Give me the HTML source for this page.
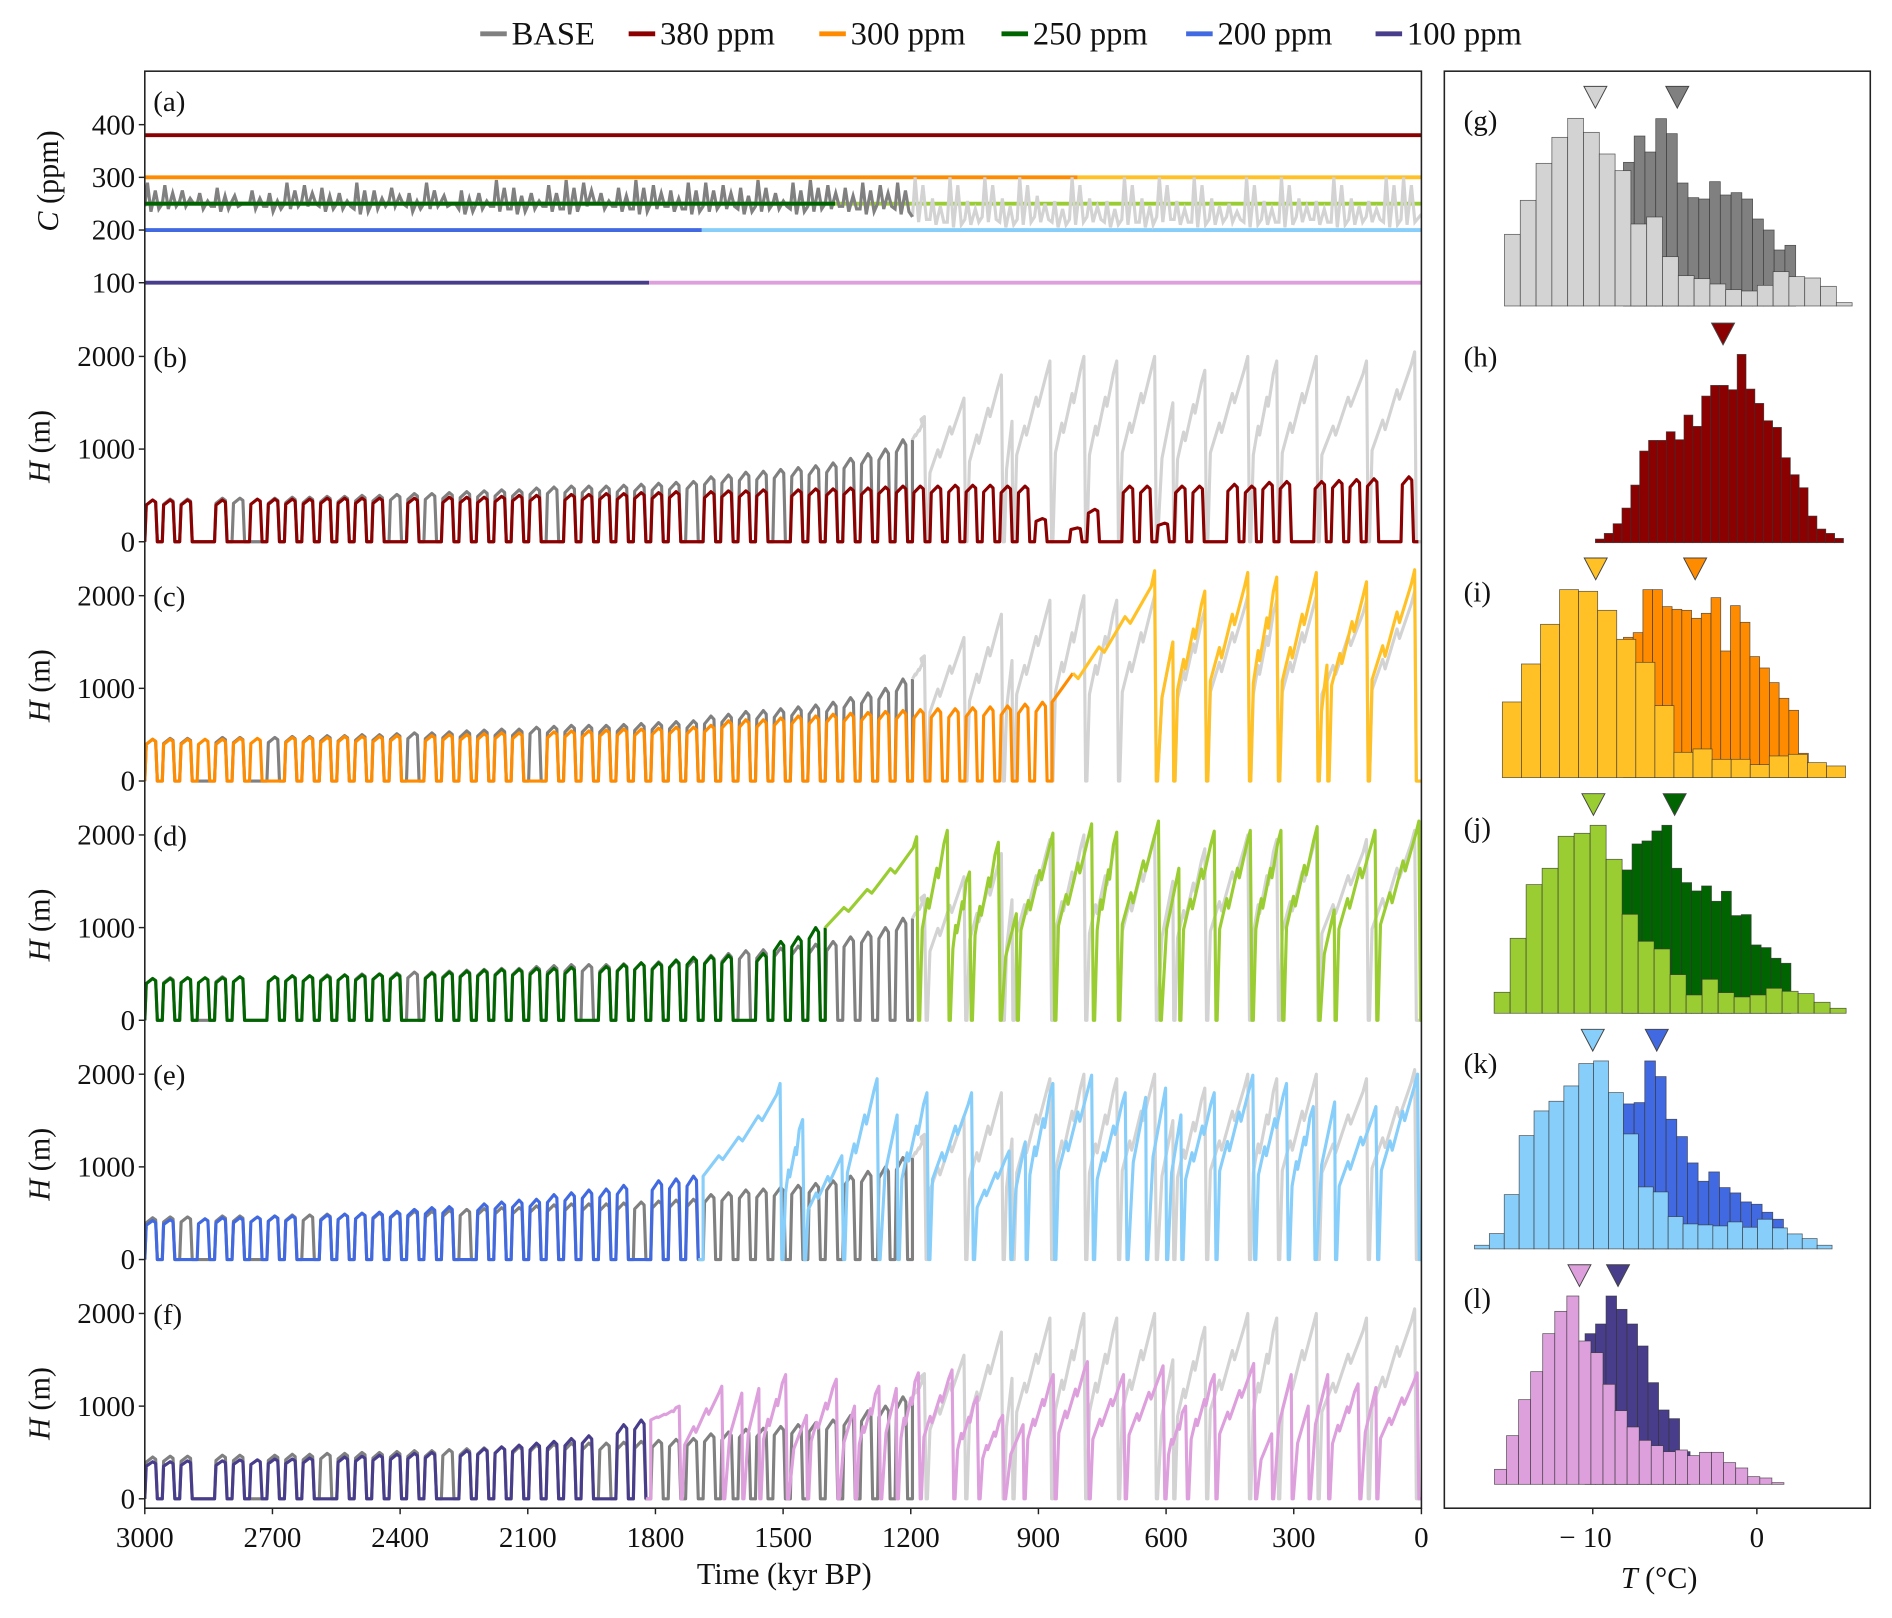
<!DOCTYPE html>
<html><head><meta charset="utf-8"><style>
html,body{margin:0;padding:0;background:#fff}
svg{display:block}
text{font-family:"Liberation Serif","DejaVu Serif",serif;fill:#111}
</style></head><body>
<svg id="fig" xmlns="http://www.w3.org/2000/svg" width="1892" height="1618" viewBox="0 0 1568 1341" preserveAspectRatio="none"></svg>
<script>
// ---------------- DATA ----------------
const xTicks = [3000,2700,2400,2100,1800,1500,1200,900,600,300,0];
const cTicks = [100,200,300,400];
const hTicks = [0,1000,2000];
const tTicks = [-10,0];
const panelLetters = ["(b)","(c)","(d)","(e)","(f)"];
const scenarioLevels = [380,300,250,200,100];

// BASE CO2 per 41-kyr cycle (max/min)
const baseCMax = [290,285,275,270,280,265,275,270,290,285,280,270,290,275,280,270,290,265,275,270,295,280,270,285,295,290,270,280,295,285,275,290,290,285,280,295,270,290,295,285,280,290,285,290,
 300,260,300,255,300,260,300,265,255,300,260,255,300,260,300,255,300,260,250,300,255,300,260,255,300,260,255,300,300];
const baseCMin = [235,240,245,240,235,245,240,235,240,245,235,240,230,240,245,235,240,245,230,240,235,230,240,235,230,245,240,235,230,240,235,230,235,240,230,235,240,230,235,240,235,230,240,230,
 215,210,205,210,215,205,210,215,205,210,215,205,210,205,215,210,205,210,215,205,210,205,215,210,205,210,215,205,210];

// Early (41-kyr) peak ice thickness per cycle
const basePeaks = [450,460,460,0,470,470,0,470,480,480,490,490,500,500,510,520,520,530,540,550,560,560,580,590,600,600,600,610,620,630,640,650,700,720,750,760,780,800,820,850,900,950,1000,1100];
const redPeaks = [450,450,450,0,450,0,460,460,460,460,470,470,470,470,0,470,0,480,480,480,490,500,500,0,510,510,520,520,530,530,540,0,540,550,550,560,0,560,570,570,580,580,590,600,600,600,610,610,610,600,600,250,0,150,350,0,600,600,200,600,600,0,620,600,640,650,0,650,660,670,680,0,700];
const orangePeaks = [450,450,450,450,450,460,460,0,470,470,470,480,480,480,490,0,490,500,500,510,520,520,0,530,540,540,550,560,560,570,580,580,600,650,660,660,680,700,700,720,730,740,750,760,770,780,780,790,800,810,830,850];
const greenPeaks = [450,450,460,460,460,470,0,470,480,480,480,490,490,500,500,0,510,520,530,540,550,550,560,560,570,0,580,600,620,620,650,680,690,700,0,720,850,900,1000];
const bluePeaks = [420,430,0,440,450,450,460,470,470,0,480,490,500,510,520,540,560,570,0,600,620,640,650,700,720,750,760,800,0,850,870,900];
const indigoPeaks = [400,400,410,0,410,420,420,430,430,440,0,450,460,470,480,490,500,0,520,540,560,580,600,620,650,680,0,800,850];

// Late (saw-tooth) terminations (kyr BP) and peak thickness (m)
const baseTerms = [1164,1071,983,960,869,789,712,623,582,505,404,336,243,125,12];
const baseTermPeaks = [1350,1550,1800,1300,1950,2000,1950,2000,1500,1850,2000,1950,2000,1950,2050];
const orangeTerms = [623,582,505,404,336,243,220,125,12];
const orangeTermPeaks = [2270,1500,2050,2250,2200,2250,1250,2150,2280];
const greenTerms = [1182,1110,1058,990,950,862,771,712,614,568,483,398,326,241,203,105,2];
const greenTermPeaks = [1980,2050,1600,1920,1150,2020,2120,2030,2150,1640,2040,2050,2050,2090,1190,2050,2150];
const blueTerms = [1503,1450,1358,1275,1230,1158,1053,965,929,862,771,692,646,599,563,483,392,313,250,202,103,5];
const blueTermPeaks = [1900,1510,1120,1950,1560,1800,1800,1170,1270,1900,1990,1800,1750,1850,1560,1800,1990,1900,1650,1700,1650,2000];
const pinkTerms = [1740,1640,1595,1555,1490,1443,1371,1330,1271,1232,1178,1099,1040,980,934,861,781,696,603,550,483,390,350,304,264,218,145,105,6];
const pinkTermPeaks = [1000,1215,1140,1190,1340,900,1290,1000,1215,1190,1360,1390,1100,900,800,1340,1480,1340,1435,1000,1340,1460,700,1340,1000,1340,1240,1200,1360];

// Histograms (counts)
const gLight = [215,317,428,506,563,521,456,406,246,267,148,91,82,66,49,45,62,103,88,84,59,10];
const gDark = [431,510,462,562,517,369,325,321,373,333,340,321,261,228,168,182];
const hDark = [11,28,57,104,173,275,307,307,333,309,383,349,440,472,472,459,565,461,418,366,346,255,204,165,80,41,28,13];
const iLight = [227,341,460,564,559,502,415,346,216,76,86,55,55,39,65,70,45,35];
const iDark = [421,435,564,564,513,505,502,478,493,540,380,516,466,363,329,285,238,202,73];
const jLight = [63,225,386,435,531,540,564,462,297,216,193,116,55,102,62,49,55,75,66,59,33,15];
const jDark = [430,508,517,547,564,435,392,367,382,336,366,293,296,205,197,165,150];
const kLight = [11,46,163,340,414,443,489,556,564,469,345,186,171,97,75,72,69,81,65,89,63,45,31,11];
const kDark = [435,439,564,517,389,337,258,203,231,184,168,141,134,110,89];
const lLight = [45,146,254,338,452,519,565,430,395,300,221,172,132,116,98,103,86,96,96,65,49,23,19,5];
const lDark = [452,481,565,525,481,415,305,223,197,98];
const histStarts = {gL:-15.38,gD:-8.13,h:-9.84,iL:-15.51,iD:-8.13,jL:-16.01,jD:-8.21,kL:-17.21,kD:-8.13,lL:-15.99,lD:-10.47};
const histWidths = {gL:0.963,gD:0.656,h:0.540,iL:1.162,iD:0.593,jL:0.975,jD:0.605,kL:0.908,kD:0.650,lL:0.735,lD:0.64};
const meanT = {gL:-9.84,gD:-4.85,h:-2.06,iL:-9.82,iD:-3.76,jL:-9.96,jD:-5.01,kL:-10.0,kD:-6.10,lL:-10.81,lD:-8.46};

// ---------------- HELPERS ----------------
const NS = "http://www.w3.org/2000/svg";
const svg = document.getElementById("fig");
function el(tag, attrs, parent){const e=document.createElementNS(NS,tag);for(const k in attrs)e.setAttribute(k,attrs[k]);(parent||svg).appendChild(e);return e;}
function txt(s, attrs, parent){const e=el("text",attrs,parent);e.textContent=s;return e;}
const X0=120, X1=1178;
const xT = t => X1 - (t/3000)*(X1-X0);
const yC = v => 278 - v*0.4367;
const zeros = [449,647.3,845.6,1043.9,1242.2];
const yH = (k,v) => zeros[k] - v*0.0768;
const xTemp = T => 1456 + T*13.6;
const COUNT2PX = 1/3.62;
const P = 41;

function earlyPts(peaks,start){const pts=[];peaks.forEach((pk,i)=>{const t0=start-i*P;
 if(pk>0){pts.push([t0,0],[t0-0.08*P,0.88*pk],[t0-0.45*P,pk],[t0-0.62*P,0.95*pk],[t0-0.72*P,0]);}
 else pts.push([t0,0]);});pts.push([start-peaks.length*P,0]);return pts;}
function latePts(ts,v0,terms,peaks){const pts=[[ts,v0]];let prev=ts;
 terms.forEach((te,j)=>{const pk=peaks[j];
  if(j===0){const L=ts-te;const dv=pk-v0;
   pts.push([ts-0.2*L,v0+0.22*dv],[ts-0.25*L,v0+0.18*dv],[ts-0.45*L,v0+0.42*dv],[ts-0.5*L,v0+0.38*dv],
            [ts-0.7*L,v0+0.65*dv],[ts-0.75*L,v0+0.6*dv],[te+12,v0+0.88*dv],[te+4,pk],[te,0]);}
  else{const L=prev-te;pts.push([prev-3,0]);
   if(L<50){pts.push([prev-3-0.3*(L-6),0.6*pk],[te+2,pk],[te,0]);}
   else{pts.push([prev-9,0.48*pk],[prev-0.3*L,0.64*pk],[prev-0.35*L,0.59*pk],[prev-0.6*L,0.8*pk],[prev-0.65*L,0.75*pk],[te+12,0.93*pk],[te+4,pk],[te,0]);}}
  prev=te;});
 if(prev>0)pts.push([prev-2,0],[0,0]);return pts;}
function splitDraw(pts,k,tSwitch,dark,light,name,parent){
 const a=[],b=[];pts.forEach(p=>{if(p[0]>=tSwitch)a.push(p);else b.push(p);});
 if(a.length&&b.length)b.unshift(a[a.length-1]);
 [[a,dark,"-early"],[b,light,"-late"]].forEach(([arr,col,suf])=>{if(arr.length<2)return;
  const d=arr.map((p,i)=>(i?"L":"M")+xT(p[0]).toFixed(1)+" "+yH(k,p[1]).toFixed(1)).join("");
  const path=el("path",{d:d,fill:"none",stroke:col,"stroke-width":2.6,"stroke-linejoin":"round"},parent);
  
  });}

// ---------------- LEGEND ----------------
const legItems=[["BASE","#808080",398],["380 ppm","#8b0000",521],["300 ppm","#ff8c00",679],["250 ppm","#006400",830],["200 ppm","#4169e1",983],["100 ppm","#483d8b",1140]];
const legend=el("g",{});


legItems.forEach(([lab,col,x])=>{
 const ln=el("line",{x1:x,x2:x+22,y1:28,y2:28,stroke:col,"stroke-width":4},legend);
 
 
 const t=txt(lab,{x:x+26,y:37,"font-size":27},legend);
 
 });

// ---------------- MAIN PANELS ----------------
const clip=el("clipPath",{id:"mainclip"});el("rect",{x:X0,y:59,width:X1-X0,height:1191},clip);
const series=el("g",{"clip-path":"url(#mainclip)"});



// panel (a): CO2
const basePts=[];baseCMax.forEach((mx,i)=>{const t0=3000-i*P;const mn=baseCMin[i];
 basePts.push([t0,mn+10],[t0-0.15*P,mx],[t0-0.35*P,mn],[t0-0.6*P,mx-15],[t0-0.8*P,mn+5]);});
basePts.push([0,baseCMin[baseCMin.length-1]+20]);
[[380,"#8b0000","#8b0000",-1],[300,"#ff8c00","#ffc125",808],[250,"#006400","#9acd32",1378],[200,"#4169e1","#87cefa",1691],[100,"#483d8b","#dda0dd",1815]].forEach(([lev,c1,c2,sw])=>{
 const y=yC(lev);
 if(sw<0){const l=el("line",{x1:X0,x2:X1,y1:y,y2:y,stroke:c1,"stroke-width":3.2},series);
  
  }
 else{const l1=el("line",{x1:X0,x2:xT(sw),y1:y,y2:y,stroke:c1,"stroke-width":3.2},series);
  
  
  const l2=el("line",{x1:xT(sw),x2:X1,y1:y,y2:y,stroke:c2,"stroke-width":3.2},series);
  
  }});
(function(){const a=basePts.filter(p=>p[0]>=1196),b=basePts.filter(p=>p[0]<1196);b.unshift(a[a.length-1]);
 [[b,"#d3d3d3","base-co2-late"],[a,"#808080","base-co2-early"]].forEach(([arr,col,nm])=>{
  const d=arr.map((p,i)=>(i?"L":"M")+xT(p[0]).toFixed(1)+" "+yC(p[1]).toFixed(1)).join("");
  const path=el("path",{d:d,fill:"none",stroke:col,"stroke-width":2.6},series);
  
  });})();
(function(){const l=el("line",{x1:X0,x2:xT(1378),y1:yC(250),y2:yC(250),stroke:"#006400","stroke-width":3.2},series);
 
 })();

// BASE thickness
const baseH = earlyPts(basePeaks,3000).concat(latePts(3000-basePeaks.length*P,1100,baseTerms,baseTermPeaks));
const scen = [
 {name:"h-380ppm",pts:earlyPts(redPeaks,3000),sw:-1,c1:"#8b0000",c2:"#8b0000"},
 {name:"h-300ppm",pts:earlyPts(orangePeaks,3000).concat(latePts(3000-orangePeaks.length*P,850,orangeTerms,orangeTermPeaks)),sw:808,c1:"#ff8c00",c2:"#ffc125"},
 {name:"h-250ppm",pts:earlyPts(greenPeaks,3000).concat(latePts(3000-greenPeaks.length*P,1000,greenTerms,greenTermPeaks)),sw:1378,c1:"#006400",c2:"#9acd32"},
 {name:"h-200ppm",pts:earlyPts(bluePeaks,3000).concat(latePts(3000-bluePeaks.length*P,900,blueTerms,blueTermPeaks)),sw:1691,c1:"#4169e1",c2:"#87cefa"},
 {name:"h-100ppm",pts:earlyPts(indigoPeaks,3000).concat(latePts(3000-indigoPeaks.length*P,850,pinkTerms,pinkTermPeaks)),sw:1815,c1:"#483d8b",c2:"#dda0dd"}];
scen.forEach((s,k)=>{
 splitDraw(baseH,k,1196,"#808080","#d3d3d3","h-base-panel-"+(k+1),series);
 splitDraw(s.pts,k,s.sw<0?-10:s.sw,s.c1,s.c2,s.name,series);});

// frame
const frame=el("rect",{x:X0,y:59,width:X1-X0,height:1191,fill:"none",stroke:"#222","stroke-width":1.3});



cTicks.forEach(v=>{const y=yC(v);
 const tk=el("line",{x1:X0-5,x2:X0,y1:y,y2:y,stroke:"#222","stroke-width":1.2});
 
 
 const t=txt(String(v),{x:X0-8,y:y+8,"font-size":24,"text-anchor":"end"});
 
 });
const cl=txt("",{x:0,y:0,"font-size":25,"text-anchor":"middle",transform:"translate(48,150) rotate(-90)"});
cl.innerHTML='<tspan font-style="italic">C</tspan> (ppm)';


const la=txt("(a)",{x:127,y:92,"font-size":24});



zeros.forEach((z,k)=>{
 hTicks.forEach(v=>{const y=yH(k,v);
  const tk=el("line",{x1:X0-5,x2:X0,y1:y,y2:y,stroke:"#222","stroke-width":1.2});
  
  
  const t=txt(String(v),{x:X0-8,y:y+8,"font-size":24,"text-anchor":"end"});
  
  });
 const yl=txt("",{x:0,y:0,"font-size":25,"text-anchor":"middle",transform:"translate(41,"+(z-79)+") rotate(-90)"});
 yl.innerHTML='<tspan font-style="italic">H</tspan> (m)';
 
 
 const pl=txt(panelLetters[k],{x:127,y:z-145,"font-size":24});
 
 });

xTicks.forEach(v=>{const x=xT(v);
 const tk=el("line",{x1:x,x2:x,y1:1250,y2:1255,stroke:"#222","stroke-width":1.2});
 
 
 const t=txt(String(v),{x:x,y:1282,"font-size":24,"text-anchor":"middle"});
 
 });
const xl=txt("Time (kyr BP)",{x:650,y:1313,"font-size":25,"text-anchor":"middle"});



// ---------------- HISTOGRAMS ----------------
const hframe=el("rect",{x:1197,y:59,width:353,height:1191,fill:"none",stroke:"#222","stroke-width":1.3});


const hists=[
 {lab:"(g)",base:253.6,layers:[["gD",gDark,"#808080"],["gL",gLight,"#d3d3d3"]]},
 {lab:"(h)",base:449.8,layers:[["h",hDark,"#8b0000"]]},
 {lab:"(i)",base:644.5,layers:[["iD",iDark,"#ff8c00"],["iL",iLight,"#ffc125"]]},
 {lab:"(j)",base:839.8,layers:[["jD",jDark,"#006400"],["jL",jLight,"#9acd32"]]},
 {lab:"(k)",base:1035.1,layers:[["kD",kDark,"#4169e1"],["kL",kLight,"#87cefa"]]},
 {lab:"(l)",base:1230.2,layers:[["lD",lDark,"#483d8b"],["lL",lLight,"#dda0dd"]]}];
hists.forEach(h=>{
 const g=el("g",{});
 
 
 h.layers.forEach(([key,arr,col])=>{
  arr.forEach((c,i)=>{const x0=xTemp(histStarts[key]+i*histWidths[key]);const x1=xTemp(histStarts[key]+(i+1)*histWidths[key]);
   const hh=c*COUNT2PX;
   const r=el("rect",{x:x0.toFixed(2),y:(h.base-hh).toFixed(2),width:(x1-x0).toFixed(2),height:hh.toFixed(2),fill:col,stroke:"#333","stroke-width":0.6,"stroke-opacity":0.8},g);
   
   });
  const mx=xTemp(meanT[key]);const ty=h.base-182;
  const m=el("polygon",{points:(mx-9.5)+","+ty+" "+(mx+9.5)+","+ty+" "+mx+","+(ty+18),fill:col,stroke:"#444","stroke-width":0.8},g);
  
  });
 const t=txt(h.lab,{x:1213,y:h.base-146,"font-size":24},g);
 
 });
tTicks.forEach(v=>{const x=xTemp(v);
 const tk=el("line",{x1:x,x2:x,y1:1250,y2:1255,stroke:"#222","stroke-width":1.2});
 
 
 const t=txt(v<0?"\u2212 "+Math.abs(v):String(v),{x:x-(v<0?6:0),y:1282,"font-size":24,"text-anchor":"middle"});
 
 });
const tl=txt("",{x:1375,y:1316,"font-size":25,"text-anchor":"middle"});
tl.innerHTML='<tspan font-style="italic">T</tspan> (°C)';


</script>
</body></html>
